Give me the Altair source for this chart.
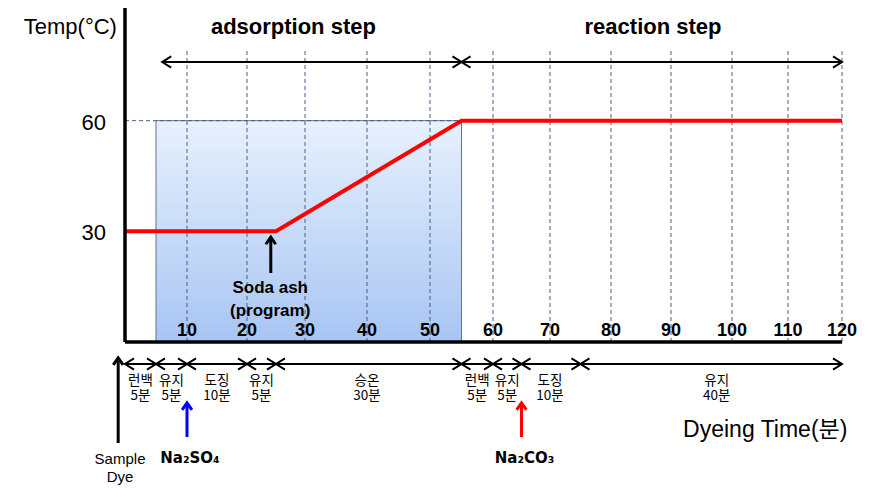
import altair as alt
import pandas as pd

# ---------------- data ----------------
profile_time = [0, 25, 55, 120]
profile_temp = [30, 30, 60, 60]
x_ticks = [10, 20, 30, 40, 50, 60, 70, 80, 90, 100, 110, 120]
y_ticks = [30, 60]
step_labels = ["adsorption step", "reaction step"]
step_start = [6, 55]
step_end = [55, 120]
seg_bounds = [0, 5, 10, 20, 25, 55, 60, 65, 75, 120]
seg_names = ["런백", "유지", "도징", "유지", "승온", "런백", "유지", "도징", "유지"]
seg_durations = ["5분", "5분", "10분", "5분", "30분", "5분", "5분", "10분", "40분"]
box_start, box_end, box_temp = 5, 55, 60
additions = ["Na₂SO₄", "Na₂CO₃"]
addition_time = [10, 65]
addition_color = ["#0000ff", "#ff0000"]
soda_ash_time = 24.1

# ---------------- layout (in chart units: minutes / °C) ----------------
GRID_TOP = 79.7
TITLE_Y = 85.4
STEP_TITLE_X = [28, 87]
TOP_ARROW_Y = 75.9
TICK_LABEL_Y = 2.9
TIMELINE_Y = -5.96
SEG_LABEL_Y = -10.5
ADD_TIP_Y = -16.5
ADD_TAIL_Y = -25.75
ADD_TEXT_Y = -31.4
SAMPLE_X = -1.1
SAMPLE_TIP_Y = -4.3
SAMPLE_TAIL_Y = -27.4

SANS = "Liberation Sans, Arial, 'Noto Sans CJK KR'"
KR = "'Noto Sans CJK KR', 'Noto Sans'"

x_scale = alt.Scale(
    domain=[0, 10, 20, 30, 40, 50, 60, 70, 80, 90, 100, 110, 120],
    range=[0, 62, 122, 180, 242, 305, 368, 425, 486, 546, 607, 663, 717],
    nice=False, zero=False, clamp=False,
)
y_scale = alt.Scale(domain=[0, 90], nice=False, zero=False, clamp=False)


def X(f):
    return alt.X(f, type="quantitative", scale=x_scale, axis=None)


def Y(f):
    return alt.Y(f, type="quantitative", scale=y_scale, axis=None)


RIGHT_HEAD = "M-1,-0.62L0,0L-1,0.62"
LEFT_HEAD = "M1,-0.62L0,0L1,0.62"
UP_HEAD = "M-0.7,1L0,0L0.7,1"


def heads(df, path, color, size, sw):
    return alt.Chart(df).mark_point(
        shape=path, filled=False, color=color, stroke=color,
        strokeWidth=sw, size=size, opacity=1
    ).encode(x=X("x"), y=Y("y"))


# box
box_df = pd.DataFrame({"x": [box_start], "x2": [box_end], "y": [0], "y2": [box_temp]})
box = alt.Chart(box_df).mark_rect(
    fill=alt.Gradient(
        gradient="linear",
        stops=[alt.GradientStop(color="#e8f1fd", offset=0),
               alt.GradientStop(color="#a7c5f3", offset=1)],
        x1=0, x2=0, y1=0, y2=1,
    ),
    stroke="#66718a", strokeWidth=1,
).encode(x=X("x"), x2="x2", y=Y("y"), y2="y2")

grid_df = pd.DataFrame({"x": x_ticks, "y": 0, "y2": GRID_TOP})
grid = alt.Chart(grid_df).mark_rule(
    color="#4a5d88", strokeWidth=1, strokeDash=[4, 3]
).encode(x=X("x"), y=Y("y"), y2="y2")

h60_df = pd.DataFrame({"x": [0], "x2": [box_end], "y": [box_temp]})
h60 = alt.Chart(h60_df).mark_rule(
    color="#4a5d88", strokeWidth=1, strokeDash=[4, 3]
).encode(x=X("x"), x2="x2", y=Y("y"))

prof_df = pd.DataFrame({"x": profile_time, "y": profile_temp})
profile = alt.Chart(prof_df).mark_line(color="#ff0000", strokeWidth=4).encode(
    x=X("x"), y=Y("y"))

yaxis_df = pd.DataFrame({"x": [0], "y": [0], "y2": [92]})
yaxis = alt.Chart(yaxis_df).mark_rule(color="black", strokeWidth=3.5).encode(
    x=X("x"), y=Y("y"), y2="y2")
xaxis_df = pd.DataFrame({"x": [0], "x2": [120], "y": [0]})
xaxis = alt.Chart(xaxis_df).mark_rule(color="black", strokeWidth=3.5).encode(
    x=X("x"), x2="x2", y=Y("y"))

tick_df = pd.DataFrame({"x": x_ticks, "y": TICK_LABEL_Y, "t": [str(v) for v in x_ticks]})
tick_text = alt.Chart(tick_df).mark_text(
    font=SANS, fontSize=18, fontWeight="bold", baseline="middle", align="center", color="black"
).encode(x=X("x"), y=Y("y"), text="t:N")

ytick_df = pd.DataFrame({"x": -3.06, "y": y_ticks, "t": [str(v) for v in y_ticks]})
ytick_text = alt.Chart(ytick_df).mark_text(
    font=SANS, fontSize=22, baseline="middle", align="right", dy=2, color="black"
).encode(x=X("x"), y=Y("y"), text="t:N")

ytitle_df = pd.DataFrame({"x": [-1.3], "y": [TITLE_Y], "t": ["Temp(°C)"]})
ytitle = alt.Chart(ytitle_df).mark_text(
    font=SANS, fontSize=22, baseline="middle", align="right", color="black"
).encode(x=X("x"), y=Y("y"), text="t:N")

steps_df = pd.DataFrame({"x": STEP_TITLE_X, "y": TITLE_Y, "t": step_labels})
steps_text = alt.Chart(steps_df).mark_text(
    font=SANS, fontSize=22, fontWeight="bold", baseline="middle", align="center", color="black"
).encode(x=X("x"), y=Y("y"), text="t:N")

# top arrows
top_df = pd.DataFrame({"x": step_start, "x2": step_end, "y": TOP_ARROW_Y})
top_lines = alt.Chart(top_df).mark_rule(color="black", strokeWidth=2).encode(
    x=X("x"), x2="x2", y=Y("y"))
top_left = heads(pd.DataFrame({"x": step_start, "y": TOP_ARROW_Y}), LEFT_HEAD, "black", 324, 2)
top_right = heads(pd.DataFrame({"x": step_end, "y": TOP_ARROW_Y}), RIGHT_HEAD, "black", 324, 2)

# timeline
seg_df = pd.DataFrame({
    "x": seg_bounds[:-1], "x2": seg_bounds[1:], "y": TIMELINE_Y,
})
seg_df["mid"] = (seg_df["x"] + seg_df["x2"]) / 2
seg_lines = alt.Chart(seg_df).mark_rule(color="black", strokeWidth=2).encode(
    x=X("x"), x2="x2", y=Y("y"))
seg_left = heads(pd.DataFrame({"x": seg_bounds[:-1], "y": TIMELINE_Y}), LEFT_HEAD, "black", 324, 2)
seg_right = heads(pd.DataFrame({"x": seg_bounds[1:], "y": TIMELINE_Y}), RIGHT_HEAD, "black", 324, 2)
lab_df = pd.DataFrame({
    "x": seg_df["mid"], "y": SEG_LABEL_Y,
    "t": [n + "\n" + d for n, d in zip(seg_names, seg_durations)],
})
seg_text = alt.Chart(lab_df).mark_text(
    font=KR, fontSize=13.5, baseline="middle", align="center", color="black",
    lineBreak="\n", lineHeight=15.5
).encode(x=X("x"), y=Y("y"), text="t:N")

xtitle_df = pd.DataFrame({"x": [121], "y": [-23.9], "t": ["Dyeing Time(분)"]})
xtitle = alt.Chart(xtitle_df).mark_text(
    font=SANS, fontSize=23, baseline="middle", align="right", color="black"
).encode(x=X("x"), y=Y("y"), text="t:N")

# soda ash annotation
soda_df = pd.DataFrame({"x": [soda_ash_time], "y": [18.7], "y2": [28.0]})
soda_line = alt.Chart(soda_df).mark_rule(color="black", strokeWidth=3).encode(
    x=X("x"), y=Y("y"), y2="y2")
soda_head = heads(pd.DataFrame({"x": [soda_ash_time], "y": [28.4]}), UP_HEAD, "black", 196, 3)
soda_txt_df = pd.DataFrame({"x": [24.0], "y": [14.6], "t": ["Soda ash\n(program)"]})
soda_text = alt.Chart(soda_txt_df).mark_text(
    font=SANS, fontSize=17, fontWeight="bold", baseline="middle", align="center",
    color="black", lineBreak="\n", lineHeight=23
).encode(x=X("x"), y=Y("y"), text="t:N")

# sample dye arrow
sample_df = pd.DataFrame({"x": [SAMPLE_X], "y": [SAMPLE_TAIL_Y], "y2": [SAMPLE_TIP_Y - 0.3]})
sample_line = alt.Chart(sample_df).mark_rule(color="black", strokeWidth=3).encode(
    x=X("x"), y=Y("y"), y2="y2")
sample_head = heads(pd.DataFrame({"x": [SAMPLE_X], "y": [SAMPLE_TIP_Y]}), UP_HEAD, "black", 196, 3)
sample_txt_df = pd.DataFrame({"x": [-0.8], "y": [-31.7], "t": ["Sample\nDye"]})
sample_text = alt.Chart(sample_txt_df).mark_text(
    font=SANS, fontSize=15, baseline="middle", align="center", color="black",
    lineBreak="\n", lineHeight=18
).encode(x=X("x"), y=Y("y"), text="t:N")

# chemical additions
add_layers = []
for name, t, c in zip(additions, addition_time, addition_color):
    d = pd.DataFrame({"x": [t], "y": [ADD_TAIL_Y], "y2": [ADD_TIP_Y - 0.3]})
    add_layers.append(alt.Chart(d).mark_rule(color=c, strokeWidth=3).encode(
        x=X("x"), y=Y("y"), y2="y2"))
    add_layers.append(heads(pd.DataFrame({"x": [t], "y": [ADD_TIP_Y]}), UP_HEAD, c, 196, 3))
    td = pd.DataFrame({"x": [t], "y": [ADD_TEXT_Y], "t": [name]})
    add_layers.append(alt.Chart(td).mark_text(
        font="DejaVu Sans", fontSize=15, fontWeight="bold", baseline="middle", align="center",
        color="black", dx=3
    ).encode(x=X("x"), y=Y("y"), text="t:N"))

chart = alt.layer(
    box, grid, h60, profile, yaxis, xaxis, tick_text, ytick_text, ytitle, steps_text,
    top_lines, top_left, top_right, seg_lines, seg_left, seg_right, seg_text, xtitle,
    soda_line, soda_head, soda_text, sample_line, sample_head, sample_text, *add_layers
).properties(
    width=717, height=332,
    autosize=alt.AutoSizeParams(type="none"),
    padding={"left": 117, "top": 2, "right": 24, "bottom": 147},
    background="white",
).configure_view(stroke=None)

chart.save("out.html", embed_options={"renderer": "svg", "actions": False})
